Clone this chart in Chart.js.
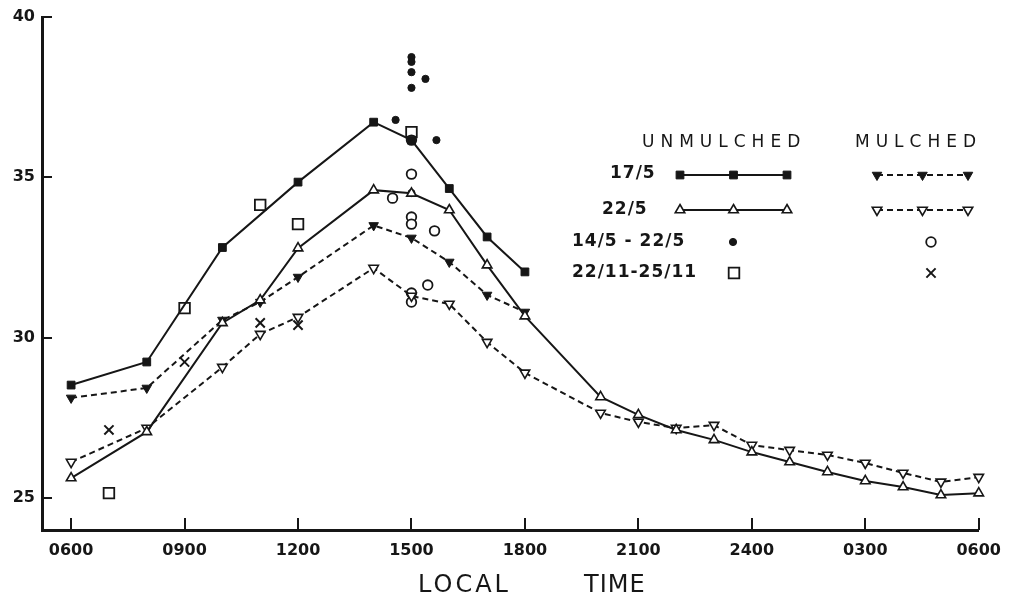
<!DOCTYPE html>
<html>
<head>
<meta charset="utf-8">
<script src="https://cdn.jsdelivr.net/npm/chart.js@4.4.1/dist/chart.umd.min.js"></script>
<style>
	html, body { margin: 0; padding: 0; background: #fff; }
	#wrap { width: 1012px; height: 596px; }
</style>
</head>
<body>
<div id="wrap"><canvas id="tempChart" width="1012" height="596"></canvas></div>
<script>
// local time as hours, 6 = 0600, 30 = 0600 next morning
var xTickValues = [6, 9, 12, 15, 18, 21, 24, 27, 30];
var xTickLabels = ['0600', '0900', '1200', '1500', '1800', '2100', '2400', '0300', '0600'];
var yTickValues = [25, 30, 35, 40];

// 17/5
var hoursUnm17 = [6, 8, 10, 12, 14, 15, 16, 17, 18];
var unmulched17 = [28.52, 29.24, 32.81, 34.85, 36.72, 36.16, 34.65, 33.14, 32.05];
var hoursMul17 = [6, 8, 10, 11, 12, 14, 15, 16, 17, 18];
var mulched17 = [28.12, 28.43, 30.55, 31.11, 31.89, 33.5, 33.11, 32.36, 31.33, 30.8];

// 22/5
var hours22 = [6, 8, 10, 11, 12, 14, 15, 16, 17, 18, 20, 21, 22, 23, 24, 25, 26, 27, 28, 29, 30];
var unmulched22 = [25.62, 27.06, 30.46, 31.17, 32.79, 34.6, 34.5, 33.98, 32.26, 30.67, 28.15, 27.59, 27.12, 26.81, 26.43, 26.12, 25.81, 25.53, 25.34, 25.09, 25.15];
var mulched22 = [26.12, 27.18, 29.08, 30.11, 30.64, 32.17, 31.3, 31.05, 29.86, 28.9, 27.65, 27.37, 27.18, 27.27, 26.65, 26.49, 26.34, 26.09, 25.78, 25.5, 25.65];

// 14/5 - 22/5 single readings
var hoursMayUnm = [15, 15, 15, 15.37, 15, 14.58, 15.66, 15];
var mayUnmulched = [38.75, 38.6, 38.28, 38.07, 37.79, 36.79, 36.16, 34.51];
var hoursMayMul = [15, 15, 14.5, 15, 15, 15.61, 15.43, 15, 15];
var mayMulched = [36.16, 35.1, 34.35, 33.76, 33.54, 33.33, 31.64, 31.39, 31.11];

// 22/11 - 25/11 single readings
var hoursNovUnm = [7, 9, 11, 12, 15];
var novUnmulched = [25.15, 30.92, 34.14, 33.54, 36.41];
var hoursNovMul = [7, 9, 11, 12];
var novMulched = [27.12, 29.24, 30.46, 30.39];

var ink = '#161616';

function pts(xs, ys) {
	return xs.map(function(x, i) { return { x: x, y: ys[i] }; });
}

var datasets = [
	{
		label: 'Unmulched 17/5', data: pts(hoursUnm17, unmulched17),
		borderColor: ink, borderWidth: 2, tension: 0,
		pointStyle: 'rect', pointRadius: 5.5, pointBackgroundColor: ink, pointBorderColor: ink, pointBorderWidth: 1
	},
	{
		label: 'Unmulched 22/5', data: pts(hours22, unmulched22),
		borderColor: ink, borderWidth: 2, tension: 0,
		pointStyle: 'triangle', pointRadius: 5.5, pointBackgroundColor: '#fff', pointBorderColor: ink, pointBorderWidth: 1.6
	},
	{
		label: 'Mulched 17/5', data: pts(hoursMul17, mulched17),
		borderColor: ink, borderWidth: 2, borderDash: [6, 4], tension: 0,
		pointStyle: 'triangle', pointRotation: 180, pointRadius: 5.5, pointBackgroundColor: ink, pointBorderColor: ink, pointBorderWidth: 1
	},
	{
		label: 'Mulched 22/5', data: pts(hours22, mulched22),
		borderColor: ink, borderWidth: 2, borderDash: [6, 4], tension: 0,
		pointStyle: 'triangle', pointRotation: 180, pointRadius: 5.5, pointBackgroundColor: '#fff', pointBorderColor: ink, pointBorderWidth: 1.6
	},
	{
		label: 'Unmulched 14/5-22/5', data: pts(hoursMayUnm, mayUnmulched), showLine: false,
		pointStyle: 'circle', pointRadius: 3.6, pointBackgroundColor: ink, pointBorderColor: ink, pointBorderWidth: 1
	},
	{
		label: 'Mulched 14/5-22/5', data: pts(hoursMayMul, mayMulched), showLine: false,
		pointStyle: 'circle', pointRadius: 4.8, pointBackgroundColor: '#fff', pointBorderColor: ink, pointBorderWidth: 1.8
	},
	{
		label: 'Unmulched 22/11-25/11', data: pts(hoursNovUnm, novUnmulched), showLine: false,
		pointStyle: 'rect', pointRadius: 7.5, pointBackgroundColor: '#fff', pointBorderColor: ink, pointBorderWidth: 1.8
	},
	{
		label: 'Mulched 22/11-25/11', data: pts(hoursNovMul, novMulched), showLine: false,
		pointStyle: 'crossRot', pointRadius: 6.5, pointBackgroundColor: ink, pointBorderColor: ink, pointBorderWidth: 2
	}
];

datasets.forEach(function(ds) { ds.clip = false; });

function marker(ctx, ds, x, y) {
	ctx.save();
	ctx.fillStyle = ds.pointBackgroundColor;
	ctx.strokeStyle = ds.pointBorderColor;
	ctx.lineWidth = ds.pointBorderWidth;
	ctx.setLineDash([]);
	Chart.helpers.drawPoint(ctx, {
		pointStyle: ds.pointStyle,
		rotation: ds.pointRotation || 0,
		radius: ds.pointRadius,
		borderWidth: ds.pointBorderWidth
	}, x, y);
	ctx.restore();
}

function sampleLine(ctx, ds, x1, x2, y) {
	ctx.save();
	ctx.strokeStyle = ds.borderColor;
	ctx.lineWidth = ds.borderWidth;
	ctx.setLineDash(ds.borderDash || []);
	ctx.beginPath();
	ctx.moveTo(x1, y);
	ctx.lineTo(x2, y);
	ctx.stroke();
	ctx.restore();
	marker(ctx, ds, x1, y);
	marker(ctx, ds, (x1 + x2) / 2, y);
	marker(ctx, ds, x2, y);
}

var decor = {
	id: 'decor',
	beforeDraw: function(chart) {
		var ctx = chart.ctx;
		ctx.save();
		ctx.fillStyle = '#fff';
		ctx.fillRect(0, 0, chart.width, chart.height);
		ctx.restore();
	},
	afterDraw: function(chart) {
		var ctx = chart.ctx;
		var xs = chart.scales.x, ys = chart.scales.y;
		var area = chart.chartArea;
		var dsets = chart.data.datasets;

		// tick marks point inward
		ctx.save();
		ctx.strokeStyle = ink;
		ctx.lineWidth = 2;
		ctx.beginPath();
		xTickValues.forEach(function(v) {
			var px = Math.round(xs.getPixelForValue(v));
			ctx.moveTo(px, area.bottom);
			ctx.lineTo(px, area.bottom - 12);
		});
		yTickValues.forEach(function(v) {
			var py = Math.round(ys.getPixelForValue(v));
			ctx.moveTo(area.left, py);
			ctx.lineTo(area.left + 10, py);
		});
		ctx.stroke();

		// axis title
		ctx.fillStyle = ink;
		ctx.font = '24px "DejaVu Sans"';
		ctx.textBaseline = 'alphabetic';
		ctx.textAlign = 'left';
		ctx.letterSpacing = '3px';
		ctx.fillText('LOCAL', 418, 592);
		ctx.letterSpacing = '1px';
		ctx.fillText('TIME', 584, 592);

		// legend
		ctx.font = '17px "DejaVu Sans"';
		ctx.letterSpacing = '6px';
		ctx.textBaseline = 'middle';
		ctx.fillText('UNMULCHED', 642, 143);
		ctx.fillText('MULCHED', 855, 143);

		ctx.font = 'bold 17px "DejaVu Sans"';
		ctx.letterSpacing = '1px';
		ctx.fillText('17/5', 610, 174);
		ctx.fillText('22/5', 602, 210);
		ctx.fillText('14/5 - 22/5', 572, 242);
		ctx.fillText('22/11-25/11', 572, 273);
		ctx.letterSpacing = '0px';
		ctx.restore();

		sampleLine(ctx, dsets[0], 680, 787, 175);
		sampleLine(ctx, dsets[1], 680, 787, 210);
		sampleLine(ctx, dsets[2], 877, 968, 175);
		sampleLine(ctx, dsets[3], 877, 968, 210);
		marker(ctx, dsets[4], 733, 242);
		marker(ctx, dsets[5], 931, 242);
		marker(ctx, dsets[6], 734, 273);
		marker(ctx, dsets[7], 931, 273);
	}
};

var ctx = document.getElementById('tempChart');
var myChart = new Chart(ctx, {
	type: 'line',
	data: { datasets: datasets },
	options: {
		responsive: false,
		animation: false,
		layout: { padding: { top: 17, right: 31, left: 0, bottom: 0 } },
		plugins: { legend: { display: false }, tooltip: { enabled: false } },
		scales: {
			x: {
				type: 'linear',
				min: 5.23,
				max: 30,
				afterFit: function(s) { s.height = 66; },
				afterBuildTicks: function(s) {
					s.ticks = xTickValues.map(function(v) { return { value: v }; });
				},
				grid: { display: false, drawTicks: false },
				border: { display: true, color: ink, width: 3 },
				ticks: {
					padding: 11,
					color: ink,
					font: { family: 'DejaVu Sans', size: 16, weight: 'bold' },
					callback: function(v) {
						var i = xTickValues.indexOf(v);
						return i >= 0 ? xTickLabels[i] : '';
					}
				}
			},
			y: {
				min: 24,
				max: 40,
				afterFit: function(s) { s.width = 42; },
				afterBuildTicks: function(s) {
					s.ticks = yTickValues.map(function(v) { return { value: v }; });
				},
				grid: { display: false, drawTicks: false },
				border: { display: true, color: ink, width: 3 },
				ticks: {
					padding: 7,
					color: ink,
					font: { family: 'DejaVu Sans', size: 16, weight: 'bold' }
				}
			}
		}
	},
	plugins: [decor]
});
</script>
</body>
</html>
